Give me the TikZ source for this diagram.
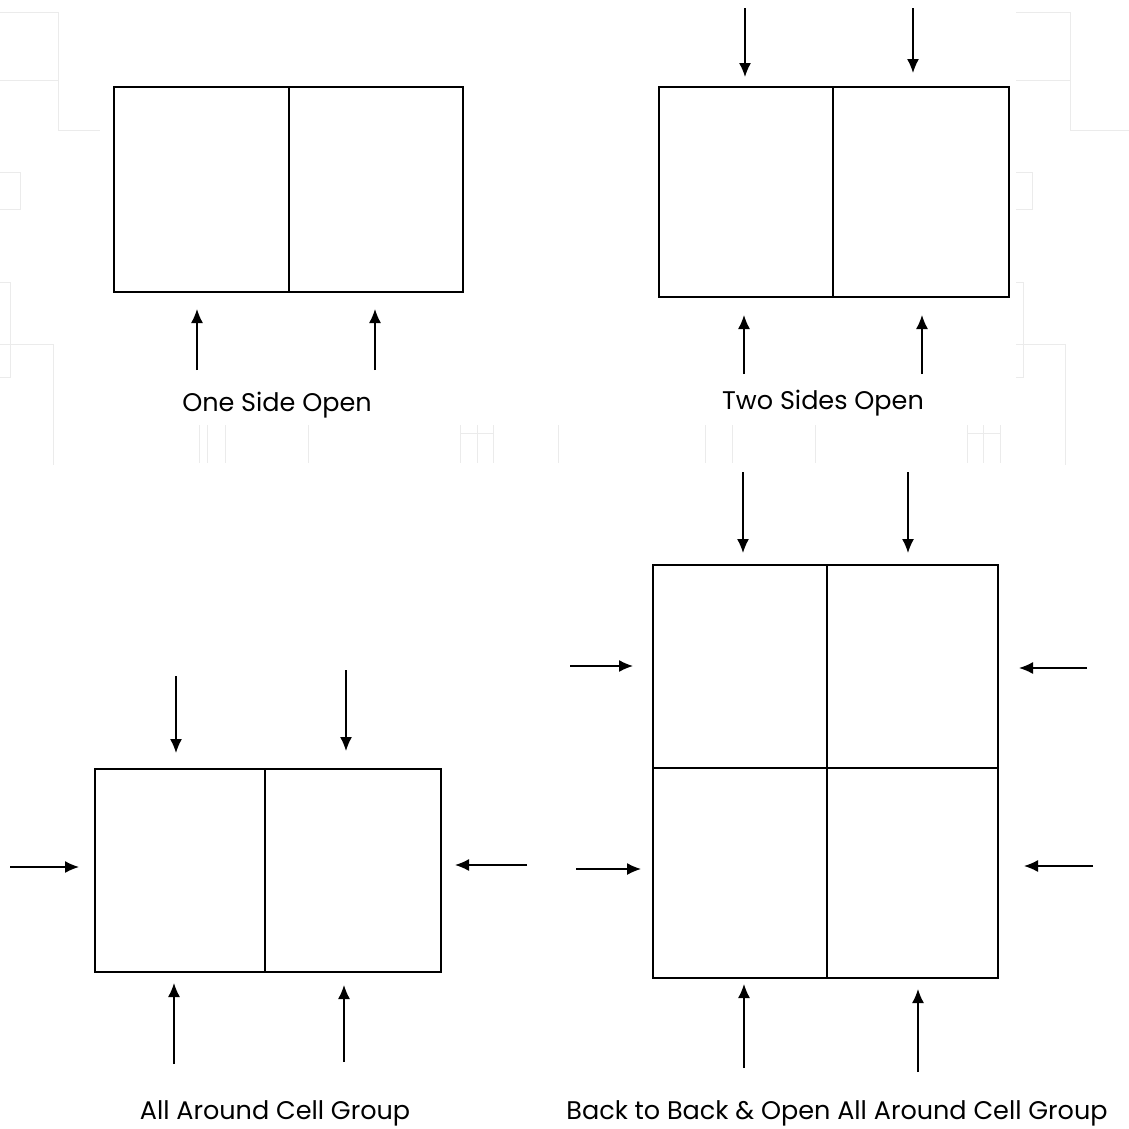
\documentclass[tikz,border=0pt]{standalone}
\usepackage{fontspec}
\setmainfont{Poppins}
\usetikzlibrary{arrows.meta}
\begin{document}
\begin{tikzpicture}[x=1pt,y=-1pt,
  cell/.style={draw=black,line width=1.5pt},
  flow/.style={line width=1.4pt,-{Latex[length=14pt,width=12pt]}},
  caption/.style={font=\fontsize{25.5}{30}\selectfont,inner sep=0pt,anchor=base},
  faint/.style={draw=black!8,line width=1pt}]
\useasboundingbox (0,0) rectangle (1129,1128);
\fill[white] (0,0) rectangle (1129,1128);

% faint grid fragments in the background
\draw[faint] (0,12) -- (58,12) -- (58,130) -- (100,130);
\draw[faint] (0,80) -- (58,80);
\draw[faint] (0,172) -- (20,172) -- (20,209) -- (0,209);
\draw[faint] (0,282) -- (10,282) -- (10,377) -- (0,377);
\draw[faint] (0,344) -- (53,344) -- (53,465);
\draw[faint] (1016,12) -- (1070,12) -- (1070,130) -- (1129,130);
\draw[faint] (1016,80) -- (1070,80);
\draw[faint] (1016,172) -- (1032,172) -- (1032,209) -- (1016,209);
\draw[faint] (1016,282) -- (1023,282) -- (1023,377) -- (1016,377);
\draw[faint] (1016,344) -- (1065,344) -- (1065,465);
\foreach \gx in {199,207,225,308,460,477,493,558,705,732,815,967,983,1000}
  \draw[faint] (\gx,425) -- (\gx,463);
\draw[faint] (460,433) -- (493,433);
\draw[faint] (967,433) -- (1000,433);

% One Side Open
\node[cell,minimum width=349pt,minimum height=205pt,inner sep=0pt,anchor=north west] (a) at (113,86) {};
\draw[cell] (289,86) -- (289,291);
\coordinate (a1) at (197,370); \coordinate (a1t) at (197,309);
\coordinate (a2) at (375,370); \coordinate (a2t) at (375,309);
\draw[flow] (a1) -- (a1t);
\draw[flow] (a2) -- (a2t);
\node[caption] (la) at (277,411) {One Side Open};

% Two Sides Open
\node[cell,minimum width=350pt,minimum height=210pt,inner sep=0pt,anchor=north west] (b) at (658,86) {};
\draw[cell] (833,86) -- (833,296);
\coordinate (b1) at (745,8);   \coordinate (b1t) at (745,77);
\coordinate (b2) at (913,8);   \coordinate (b2t) at (913,73);
\coordinate (b3) at (744,374); \coordinate (b3t) at (744,315);
\coordinate (b4) at (922,374); \coordinate (b4t) at (922,315);
\foreach \s in {b1,b2,b3,b4} \draw[flow] (\s) -- (\s t);
\node[caption] (lb) at (823,409) {Two Sides Open};

% All Around Cell Group
\node[cell,minimum width=346pt,minimum height=203pt,inner sep=0pt,anchor=north west] (c) at (94,768) {};
\draw[cell] (265,768) -- (265,971);
\coordinate (c1) at (176,676);  \coordinate (c1t) at (176,753);
\coordinate (c2) at (346,670);  \coordinate (c2t) at (346,751);
\coordinate (c3) at (10,867);   \coordinate (c3t) at (79,867);
\coordinate (c4) at (527,865);  \coordinate (c4t) at (455,865);
\coordinate (c5) at (174,1064); \coordinate (c5t) at (174,983);
\coordinate (c6) at (344,1062); \coordinate (c6t) at (344,985);
\foreach \s in {c1,c2,c3,c4,c5,c6} \draw[flow] (\s) -- (\s t);
\node[caption] (lc) at (275,1119) {All Around Cell Group};

% Back to Back & Open All Around Cell Group
\node[cell,minimum width=345pt,minimum height=413pt,inner sep=0pt,anchor=north west] (d) at (652,564) {};
\draw[cell] (827,564) -- (827,977);
\draw[cell] (652,768) -- (997,768);
\coordinate (d1) at (743,472);  \coordinate (d1t) at (743,553);
\coordinate (d2) at (908,472);  \coordinate (d2t) at (908,553);
\coordinate (d3) at (570,666);  \coordinate (d3t) at (633,666);
\coordinate (d4) at (576,869);  \coordinate (d4t) at (641,869);
\coordinate (d5) at (1087,668); \coordinate (d5t) at (1019,668);
\coordinate (d6) at (1093,866); \coordinate (d6t) at (1024,866);
\coordinate (d7) at (744,1068); \coordinate (d7t) at (744,984);
\coordinate (d8) at (918,1072); \coordinate (d8t) at (918,989);
\foreach \s in {d1,d2,d3,d4,d5,d6,d7,d8} \draw[flow] (\s) -- (\s t);
\node[caption] (ld) at (837,1119) {Back to Back \& Open All Around Cell Group};
\end{tikzpicture}
\end{document}
